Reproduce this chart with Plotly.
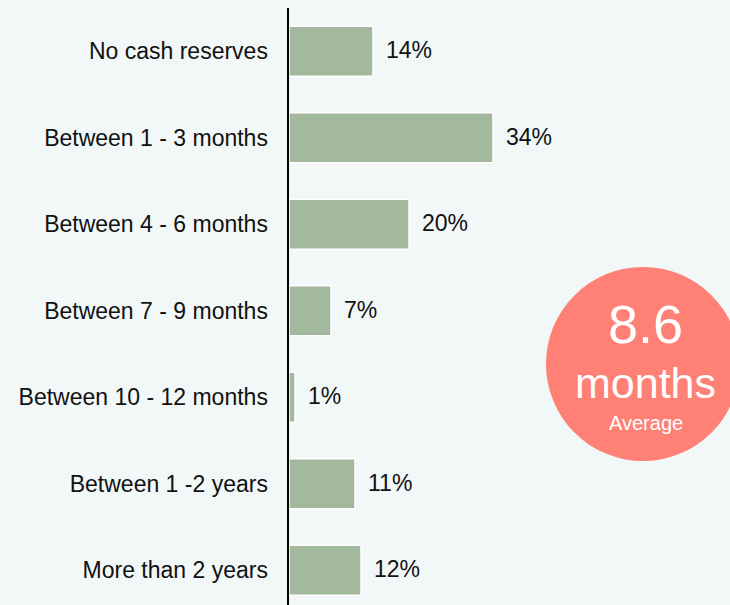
import plotly.graph_objects as go

categories = ["No cash reserves", "Between 1 - 3 months", "Between 4 - 6 months",
              "Between 7 - 9 months", "Between 10 - 12 months", "Between 1 -2 years",
              "More than 2 years"]
values = [14, 34, 20, 7, 1, 11, 12]
value_labels = ["14%", "34%", "20%", "7%", "1%", "11%", "12%"]
avg_value = "8.6"
avg_unit = "months"
avg_caption = "Average"

FONT = "Liberation Sans, Arial, sans-serif"
BG = "#F2F7F7"

fig = go.Figure()
fig.add_trace(go.Bar(
    x=values, y=categories, orientation="h",
    marker=dict(color="#A3B99E", line=dict(color="white", width=1.5)),
    width=0.58, hoverinfo="skip",
))

for cat, v, lab in zip(categories, values, value_labels):
    fig.add_annotation(x=v, y=cat, xref="x", yref="y", text=lab, showarrow=False,
                       xanchor="left", yanchor="middle", xshift=11, yshift=1,
                       font=dict(family=FONT, size=23, color="#111111"))

fig.add_shape(type="circle", xref="paper", yref="paper",
              xsizemode="pixel", ysizemode="pixel",
              xanchor=0.8027, yanchor=0.4037, x0=-97, x1=97, y0=-97, y1=97,
              fillcolor="#FF8074", line=dict(width=0), layer="above")

fig.add_annotation(x=0.8095, y=0.4707, xref="paper", yref="paper", text=avg_value,
                   showarrow=False, xanchor="center", yanchor="middle",
                   font=dict(family=FONT, size=54, color="white"))
fig.add_annotation(x=0.8095, y=0.3719, xref="paper", yref="paper", text=avg_unit,
                   showarrow=False, xanchor="center", yanchor="middle",
                   font=dict(family=FONT, size=43, color="white"))
fig.add_annotation(x=0.8095, y=0.3049, xref="paper", yref="paper", text=avg_caption,
                   showarrow=False, xanchor="center", yanchor="middle",
                   font=dict(family=FONT, size=20, color="white"))

fig.update_layout(
    width=730, height=605,
    margin=dict(l=289, r=0, t=8, b=0),
    paper_bgcolor=BG, plot_bgcolor=BG,
    showlegend=False,
    xaxis=dict(range=[0, 73.5], visible=False, fixedrange=True),
    yaxis=dict(range=[6.402, -0.5], showline=True, linecolor="black", linewidth=2.5,
               showgrid=False, zeroline=False, ticks="", ticklabelstandoff=14,
               fixedrange=True,
               tickfont=dict(family=FONT, size=23, color="#111111")),
)

fig.write_html("out.html",
               config={"displayModeBar": False, "staticPlot": True},
               post_script="document.body.style.margin='0';"
                           "document.body.style.background='" + BG + "';"
                           "document.body.style.overflow='hidden';")
